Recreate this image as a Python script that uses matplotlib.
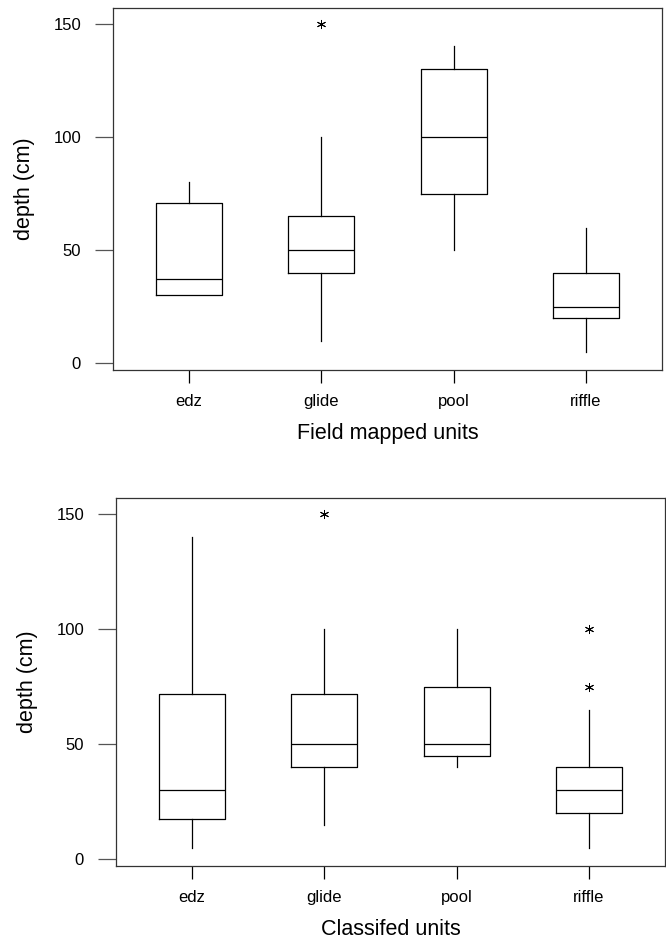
import matplotlib
matplotlib.use("Agg")
import matplotlib.pyplot as plt

plt.rcParams['font.family'] = ['Liberation Sans', 'DejaVu Sans']

units = ['edz', 'glide', 'pool', 'riffle']

# field mapped units
field_whislo = [30, 10, 50, 5]
field_q1 = [30, 40, 75, 20]
field_med = [37.5, 50, 100, 25]
field_q3 = [71, 65, 130, 40]
field_whishi = [80, 100, 140, 60]
field_fliers = [[], [150], [], []]

# classified units
class_whislo = [5, 15, 40, 5]
class_q1 = [17.5, 40, 45, 20]
class_med = [30, 50, 50, 30]
class_q3 = [72, 72, 75, 40]
class_whishi = [140, 100, 100, 65]
class_fliers = [[], [150], [], [75, 100]]


def make_stats(lo, q1, med, q3, hi, fl):
    out = []
    for i in range(len(units)):
        out.append(dict(label=units[i], whislo=lo[i], q1=q1[i], med=med[i],
                        q3=q3[i], whishi=hi[i], fliers=fl[i]))
    return out


fig = plt.figure(figsize=(6.66, 9.39), dpi=100)
ax1 = fig.add_axes([0.1697, 0.6060, 0.8243, 0.3855])
ax2 = fig.add_axes([0.1742, 0.0777, 0.8243, 0.3919])

panels = [
    (ax1, make_stats(field_whislo, field_q1, field_med, field_q3, field_whishi, field_fliers), 'Field mapped units'),
    (ax2, make_stats(class_whislo, class_q1, class_med, class_q3, class_whishi, class_fliers), 'Classifed units'),
]

for ax, stats, xlab in panels:
    ax.bxp(stats, widths=0.5, showcaps=False,
           boxprops=dict(color='black', linewidth=0.9),
           medianprops=dict(color='black', linewidth=0.9),
           whiskerprops=dict(color='black', linewidth=0.9),
           flierprops=dict(marker=(6, 2, 0), markersize=6.5, markeredgecolor='black',
                           markeredgewidth=0.7, linestyle='none'))
    ax.set_xlim(0.426, 4.574)
    ax.set_ylim(-2.9, 157)
    ax.set_yticks([0, 50, 100, 150])
    ax.tick_params(axis='y', length=13, width=0.9, pad=10, labelsize=12, color='#555555')
    ax.tick_params(axis='x', length=9.5, width=0.9, pad=8, labelsize=12)
    for s in ax.spines.values():
        s.set_linewidth(0.9)
        s.set_color('#333333')
    ax.set_ylabel('depth (cm)', fontsize=15.5, labelpad=13)
    ax.set_xlabel(xlab, fontsize=15.5, labelpad=10)

fig.savefig('out.png', dpi=100)
